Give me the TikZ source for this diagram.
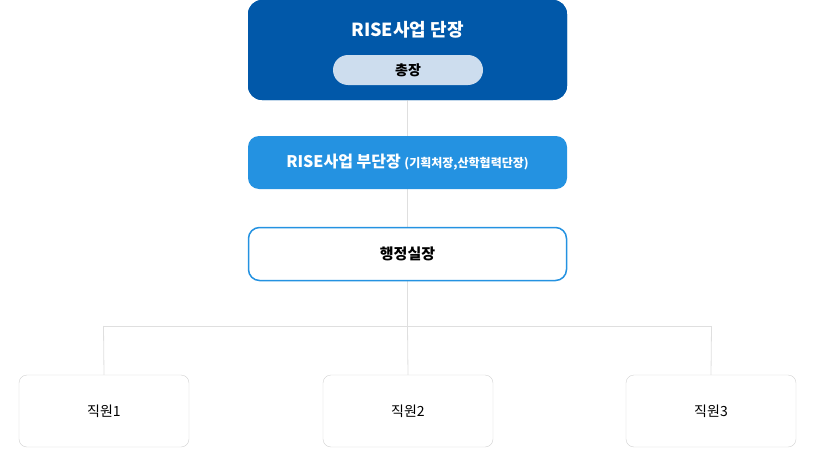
\documentclass[tikz,border=0pt]{standalone}
\usepackage{fontspec}
\setmainfont{Noto Sans CJK KR}
\begin{document}
\begin{tikzpicture}[x=1pt,y=-1pt,
  top/.style={draw=none,fill=c1,rounded corners=14pt,minimum width=319pt,minimum height=100pt},
  mid/.style={fill=c2,rounded corners=11pt,minimum width=319pt,minimum height=53pt,text=white},
  adm/.style={draw=c2,line width=1.5pt,fill=white,rounded corners=11pt,minimum width=318pt,minimum height=53pt},
  staff/.style={draw=gray!35,fill=white,rounded corners=8pt,minimum width=170pt,minimum height=72pt,font=\fontsize{14}{16}\selectfont},
  ln/.style={draw=gray!25,line width=0.8pt}]
\definecolor{c1}{HTML}{0158A9}
\definecolor{c2}{HTML}{2492E1}
\definecolor{c3}{HTML}{CDDDEE}
\useasboundingbox (0,0) rectangle (814,463);
\coordinate (j) at (407.5,326);
\coordinate (l) at (103.5,326);
\coordinate (r) at (711.5,326);
\node[staff] (s1) at (104,411) {직원1};
\node[staff] (s2) at (408,411) {직원2};
\node[staff] (s3) at (711,411) {직원3};
\node[top] (t) at (407.5,50) {};
\draw[ln] (t.south) -- (j);
\draw[ln] (l) -- (r);
\draw[ln] (l) -- (s1.north);
\draw[ln] (j) -- (s2.north);
\draw[ln] (r) -- (s3.north);
\node[top] at (407.5,50) {};
\node[text=white,font=\bfseries\fontsize{18}{20}\selectfont] (tt) at (407.5,30) {RISE사업 단장};
\node[fill=c3,rounded corners=15pt,minimum width=150pt,minimum height=30pt,font=\bfseries\fontsize{14}{16}\selectfont] (p) at (408,70) {총장};
\node[mid] (m) at (407.5,162.5) {\bfseries\fontsize{16}{18}\selectfont RISE사업 부단장 \fontsize{12}{14}\selectfont(기획처장,산학협력단장)};
\node[adm,font=\bfseries\fontsize{15}{17}\selectfont] (a) at (407.5,254) {행정실장};
\end{tikzpicture}
\end{document}
